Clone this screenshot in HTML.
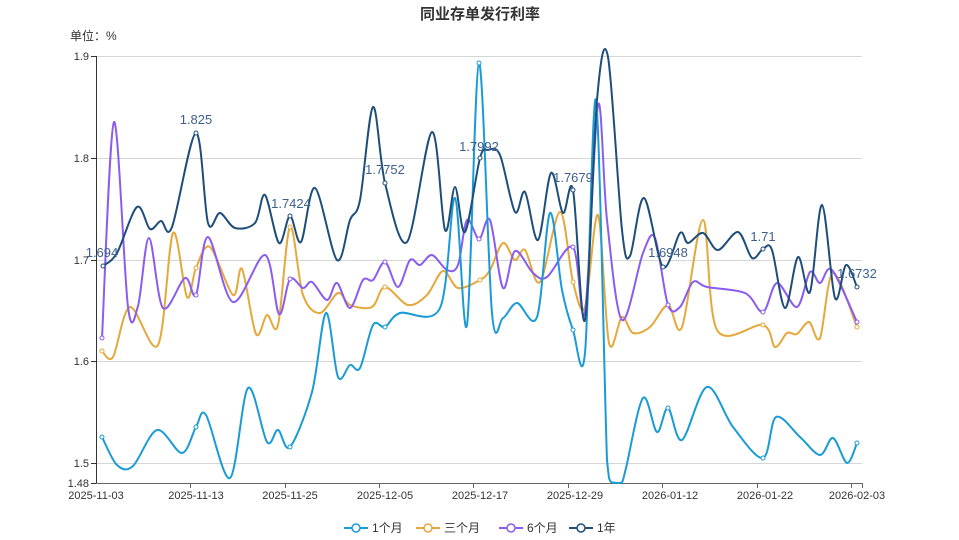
<!DOCTYPE html>
<html><head><meta charset="utf-8"><style>
html,body{margin:0;padding:0;background:#fff;}
svg{display:block;font-family:"Liberation Sans","Noto Sans CJK SC",sans-serif;}
</style></head><body>
<svg id="s" width="959" height="540" viewBox="0 0 959 540">
<text x="480" y="19" text-anchor="middle" font-size="15" font-weight="bold" fill="#333">同业存单发行利率</text>
<text x="70" y="40" font-size="12" fill="#333">单位：%</text>
<g stroke="#d6d6d6" stroke-width="1">
<line x1="96" x2="862" y1="56.5" y2="56.5"/><line x1="96" x2="862" y1="158.5" y2="158.5"/>
<line x1="96" x2="862" y1="260.5" y2="260.5"/><line x1="96" x2="862" y1="361.5" y2="361.5"/>
<line x1="96" x2="862" y1="463.5" y2="463.5"/>
</g>
<g stroke="#333" stroke-width="1">
<line x1="96.5" x2="96.5" y1="56" y2="483"/>
<line x1="96" x2="862" y1="483.5" y2="483.5" stroke="#666"/>
<line x1="91" x2="96" y1="56.5" y2="56.5"/><line x1="91" x2="96" y1="158.5" y2="158.5"/>
<line x1="91" x2="96" y1="260.5" y2="260.5"/><line x1="91" x2="96" y1="361.5" y2="361.5"/>
<line x1="91" x2="96" y1="463.5" y2="463.5"/><line x1="91" x2="96" y1="483.5" y2="483.5"/>
</g>
<g stroke="#666"><line x1="190.5" x2="190.5" y1="483" y2="488"/><line x1="285.5" x2="285.5" y1="483" y2="488"/><line x1="379.5" x2="379.5" y1="483" y2="488"/><line x1="473.5" x2="473.5" y1="483" y2="488"/><line x1="568.5" x2="568.5" y1="483" y2="488"/><line x1="662.5" x2="662.5" y1="483" y2="488"/><line x1="757.5" x2="757.5" y1="483" y2="488"/><line x1="851.5" x2="851.5" y1="483" y2="488"/><line x1="862.5" x2="862.5" y1="483" y2="488"/></g>
<g font-size="11" fill="#333" text-anchor="end">
<text x="89" y="60">1.9</text><text x="89" y="162">1.8</text><text x="89" y="264">1.7</text>
<text x="89" y="365">1.6</text><text x="89" y="467">1.5</text><text x="89" y="487">1.48</text>
</g>
<g font-size="11" fill="#333" text-anchor="middle">
<text x="96" y="499">2025-11-03</text><text x="196" y="499">2025-11-13</text><text x="290" y="499">2025-11-25</text>
<text x="385" y="499">2025-12-05</text><text x="480" y="499">2025-12-17</text><text x="575" y="499">2025-12-29</text>
<text x="670" y="499">2026-01-12</text><text x="765" y="499">2026-01-22</text><text x="857" y="499">2026-02-03</text>
</g>
<g id="series"></g>
<g font-size="13" fill="#3d5f8f" text-anchor="middle">
<text x="102" y="257">1.694</text><text x="196" y="124">1.825</text><text x="291" y="208">1.7424</text>
<text x="385" y="174">1.7752</text><text x="479" y="151">1.7992</text><text x="573" y="182">1.7679</text>
<text x="668" y="257">1.6948</text><text x="763" y="241">1.71</text><text x="857" y="278">1.6732</text>
</g>
<g font-size="12" fill="#333">
<line x1="344" x2="368" y1="528" y2="528" stroke="#1a9bd7" stroke-width="2"/><circle cx="356" cy="528" r="4" fill="#fff" stroke="#1a9bd7" stroke-width="1.5"/><text x="372" y="532">1个月</text>
<line x1="416" x2="440" y1="528" y2="528" stroke="#e5a83b" stroke-width="2"/><circle cx="428" cy="528" r="4" fill="#fff" stroke="#e5a83b" stroke-width="1.5"/><text x="444" y="532">三个月</text>
<line x1="499" x2="523" y1="528" y2="528" stroke="#8b5cf0" stroke-width="2"/><circle cx="511" cy="528" r="4" fill="#fff" stroke="#8b5cf0" stroke-width="1.5"/><text x="527" y="532">6个月</text>
<line x1="569" x2="593" y1="528" y2="528" stroke="#1f4e7a" stroke-width="2"/><circle cx="581" cy="528" r="4" fill="#fff" stroke="#1f4e7a" stroke-width="1.5"/><text x="597" y="532">1年</text>
</g>
</svg>
<script>
var S={
"#e5a83b":[[102,351],[113,357],[130,307],[158,345],[173,233],[187,297],[196,268],[210,247],[233,295],[242,269],[256,334],[267,315],[278,325],[290,227],[303,295],[320,313],[338,293],[350,305],[372,307],[385,287],[408,305],[427,295],[443,271],[458,288],[480,280],[490,270],[503,243],[515,260],[525,250],[540,282],[560,212],[573,282],[585,307],[598,215],[609,343],[622,317],[633,333],[650,327],[668,305],[682,327],[703,220],[717,330],[763,325],[775,347],[787,333],[797,334],[809,322],[820,338],[833,273],[857,327]],
"#8b5cf0":[[102,338],[114,122],[128,307],[138,306],[149,238],[163,308],[185,278],[196,295],[208,237],[233,302],[265,255],[279,314],[290,279],[303,288],[312,282],[327,300],[337,283],[350,308],[363,280],[373,280],[385,262],[398,287],[410,260],[420,265],[432,255],[447,270],[458,265],[467,220],[479,239],[490,220],[503,288],[515,251],[533,273],[547,277],[573,247],[585,312],[598,105],[607,220],[622,320],[643,253],[655,238],[668,305],[680,307],[693,282],[707,287],[745,293],[763,312],[777,283],[797,307],[810,272],[820,283],[832,270],[857,322]],
"#1a9bd7":[[102,437],[117,465],[133,466],[157,430],[182,453],[196,427],[206,415],[230,478],[248,388],[267,442],[278,430],[290,447],[312,392],[326,313],[338,377],[350,365],[360,368],[373,325],[385,327],[400,313],[440,308],[455,198],[467,325],[479,63],[492,313],[503,318],[517,303],[537,317],[550,213],[562,290],[573,330],[585,353],[596,100],[607,460],[611,482],[621,483],[626,468],[643,398],[657,432],[668,408],[682,440],[707,387],[733,427],[763,458],[776,417],[800,437],[820,455],[833,438],[847,463],[857,443]],
"#1f4e7a":[[103,266],[117,253],[137,207],[150,229],[161,221],[172,227],[196,133],[208,223],[220,213],[235,228],[255,223],[265,195],[279,243],[290,216],[301,242],[315,188],[337,260],[350,220],[360,200],[373,107],[385,183],[407,242],[432,132],[445,230],[455,187],[465,232],[480,158],[488,150],[500,155],[515,212],[525,192],[538,240],[551,173],[563,213],[573,190],[585,320],[597,100],[608,57],[622,230],[630,256],[644,198],[663,267],[680,233],[688,243],[703,233],[718,250],[738,232],[752,258],[763,249],[772,250],[785,308],[798,257],[810,292],[822,205],[835,298],[846,265],[857,287]]
};
var marks={"#1a9bd7":[102,196,290,385,479,573,668,763,857],"#e5a83b":[102,196,290,385,480,573,668,763,857],"#8b5cf0":[102,196,290,385,479,573,668,763,857],"#1f4e7a":[103,196,290,385,480,573,668,763,857]};
var g=document.getElementById('series'),out="";
for(var c in S){var p=S[c],d="M"+p[0][0]+","+p[0][1];
for(var i=0;i<p.length-1;i++){var a=p[Math.max(0,i-1)],b=p[i],e=p[i+1],f=p[Math.min(p.length-1,i+2)],t=0.16;
var y1=b[1]+(e[1]-a[1])*t,y2=e[1]-(f[1]-b[1])*t;y1=Math.min(y1,483);y2=Math.min(y2,483);
d+=" C"+(b[0]+(e[0]-a[0])*t).toFixed(1)+","+y1.toFixed(1)+" "+(e[0]-(f[0]-b[0])*t).toFixed(1)+","+y2.toFixed(1)+" "+e[0]+","+e[1];}
out+='<path d="'+d+'" fill="none" stroke="'+c+'" stroke-width="2"/>';
marks[c].forEach(function(x){var best=p[0];p.forEach(function(q){if(Math.abs(q[0]-x)<Math.abs(best[0]-x))best=q;});out+='<circle cx="'+best[0]+'" cy="'+best[1]+'" r="2" fill="#fff" stroke="'+c+'" stroke-width="1"/>';});}
g.innerHTML=out;
</script>
</body></html>
